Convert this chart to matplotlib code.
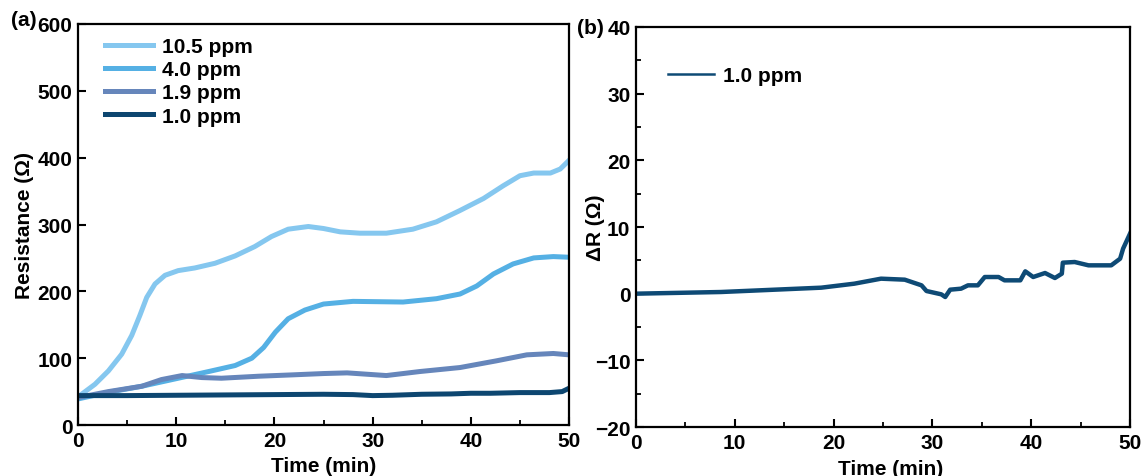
import matplotlib
matplotlib.use("Agg")
import matplotlib.pyplot as plt
from matplotlib.lines import Line2D
from matplotlib.ticker import MultipleLocator

plt.rcParams['font.family'] = ['Liberation Sans', 'DejaVu Sans']
plt.rcParams['font.weight'] = 'bold'
plt.rcParams['axes.labelweight'] = 'bold'
plt.rcParams['font.size'] = 15

# (a) resistance vs time
t_105 = [0, 1.73, 3.1, 4.45, 5.47, 6.3, 7.0, 7.84, 8.86, 10.2, 11.9, 13.95, 16.0, 18.0, 19.7, 21.4,
         23.45, 25.0, 26.7, 28.7, 31.4, 34.1, 36.5, 38.9, 41.3, 43.3, 45.0, 46.4, 48.1, 49.1, 50]
r_105 = [42, 61, 81, 106, 134, 164, 191, 211, 224, 231, 235, 242, 253, 267, 282, 293,
         297, 294, 289, 287, 287, 293, 304, 321, 339, 358, 373, 377, 377, 383, 396]

t_40 = [0, 3.1, 6.5, 9.9, 13.3, 16.0, 17.7, 18.9, 20.1, 21.4, 23.1, 25.0, 28.0, 33.1, 36.5, 38.9,
        40.6, 42.3, 44.3, 46.4, 48.4, 50]
r_40 = [39, 49, 58, 69, 80, 89, 100, 116, 139, 159, 172, 181, 185, 184, 189, 196,
        208, 226, 241, 250, 252, 251]

t_19 = [0, 3.1, 6.5, 8.5, 10.6, 12.6, 14.6, 18.4, 21.8, 25.0, 27.4, 31.4, 34.8, 38.9, 42.6, 45.7, 48.4, 50]
r_19 = [41, 50, 58, 68, 74, 71, 70, 73, 75, 77, 78, 74, 80, 86, 96, 105, 107, 105]

t_10 = [0, 5, 10, 15, 20, 25, 28, 30, 32, 35, 38, 40, 42, 45, 48, 49.3, 50]
r_10 = [44, 44, 44.5, 45, 45.5, 46, 45.5, 44, 44.5, 46, 46.5, 47.5, 47.5, 48.5, 48.5, 50, 55]

labels_a = ["10.5 ppm", "4.0 ppm", "1.9 ppm", "1.0 ppm"]
colors_a = ["#85C7EF", "#55B0E4", "#6686BB", "#0D4670"]

# (b) delta R for 1.0 ppm
t_b = [0, 8.6, 18.75, 22.1, 24.8, 27.2, 28.9, 29.4, 30.9, 31.3, 31.8, 32.9, 33.6, 34.6, 35.3, 36.7,
       37.3, 38.9, 39.4, 40.2, 41.4, 42.4, 43.1, 43.2, 44.4, 45.8, 48.1, 49.0, 49.3, 50]
dr_b = [0, 0.25, 0.9, 1.5, 2.25, 2.1, 1.25, 0.4, -0.1, -0.5, 0.6, 0.75, 1.25, 1.25, 2.5, 2.5,
        2.0, 2.0, 3.35, 2.5, 3.1, 2.35, 3.0, 4.65, 4.75, 4.25, 4.25, 5.25, 6.75, 9.0]

fig = plt.figure(figsize=(11.42, 4.77), dpi=100)
ax1 = fig.add_axes([0.0683, 0.1069, 0.430, 0.8407])
ax2 = fig.add_axes([0.5569, 0.1027, 0.4326, 0.8386])

series = [(t_105, r_105), (t_40, r_40), (t_19, r_19), (t_10, r_10)]
for (tt, rr), lab, c in zip(series, labels_a, colors_a):
    ax1.plot(tt, rr, color=c, lw=3.6, label=lab, solid_joinstyle='round')

ax1.set_xlim(0, 50)
ax1.set_ylim(0, 600)
ax1.xaxis.set_major_locator(MultipleLocator(10))
ax1.xaxis.set_minor_locator(MultipleLocator(5))
ax1.yaxis.set_major_locator(MultipleLocator(100))
ax1.set_xlabel("Time (min)")
ax1.set_ylabel("Resistance (Ω)")
ax1.xaxis.set_label_coords(0.5, -0.077)
ax1.yaxis.set_label_coords(-0.090, 0.5)
ax1.legend(loc='upper left', frameon=False, handlelength=2.3, handletextpad=0.45,
           labelspacing=0.2, bbox_to_anchor=(0.0, 1.035), borderaxespad=0.9)
fig.text(0.010, 0.957, "(a)", fontsize=15, fontweight='bold', va='center')

ax2.plot(t_b, dr_b, color="#0E4A75", lw=3.2, solid_joinstyle='round')
ax2.set_xlim(0, 50)
ax2.set_ylim(-20, 40)
ax2.xaxis.set_major_locator(MultipleLocator(10))
ax2.xaxis.set_minor_locator(MultipleLocator(5))
ax2.yaxis.set_major_locator(MultipleLocator(10))
ax2.yaxis.set_minor_locator(MultipleLocator(5))
ax2.set_xlabel("Time (min)")
ax2.set_ylabel("ΔR (Ω)")
ax2.xaxis.set_label_coords(0.515, -0.08)
ax2.yaxis.set_label_coords(-0.063, 0.5)
h = Line2D([], [], color="#0E4A75", lw=1.8)
ax2.legend([h], ["1.0 ppm"], loc='upper left', frameon=False, handlelength=2.2, handletextpad=0.45,
           bbox_to_anchor=(0.01, 0.97), borderaxespad=0.9)
fig.text(0.505, 0.941, "(b)", fontsize=15, fontweight='bold', va='center')

for ax in (ax1, ax2):
    for s in ax.spines.values():
        s.set_linewidth(1.6)
    ax.tick_params(which='major', direction='in', length=6, width=1.5, pad=4)
    ax.tick_params(which='minor', direction='in', length=3.5, width=1.3)

fig.savefig("out.png", dpi=100)
